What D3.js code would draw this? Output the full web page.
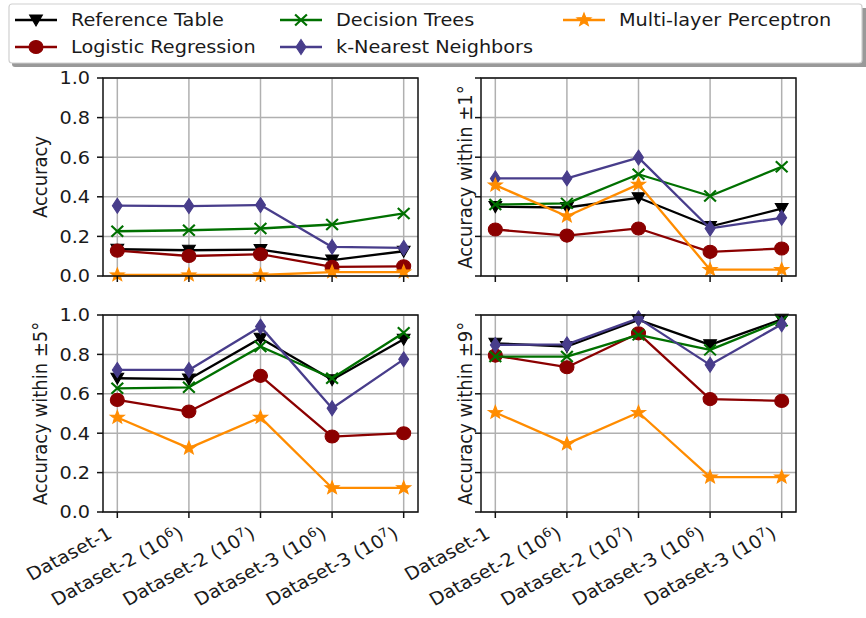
<!DOCTYPE html>
<html>
<head>
<meta charset="utf-8">
<script src="https://cdn.jsdelivr.net/npm/d3@7"></script>
<style>
  html,body{margin:0;padding:0;background:#fff;}
  svg{display:block;font-family:"DejaVu Sans",sans-serif;}
</style>
</head>
<body>
<svg id="chart" width="866" height="618"></svg>
<script>
'use strict';

/* ── data ───────────────────────────────────────────── */
const CATEGORIES = ['Dataset-1','Dataset-2 (10^6)','Dataset-2 (10^7)','Dataset-3 (10^6)','Dataset-3 (10^7)'];
const Y_TICKS = [0,0.2,0.4,0.6,0.8,1.0];

const METHODS = ['Reference Table','Logistic Regression','Decision Trees','k-Nearest Neighbors','Multi-layer Perceptron'];

// accuracy (exact)
const ACC_REF = [0.135,0.13,0.133,0.08,0.125];
const ACC_LR  = [0.128,0.101,0.110,0.046,0.049];
const ACC_DT  = [0.226,0.231,0.240,0.260,0.316];
const ACC_KNN = [0.355,0.353,0.358,0.147,0.142];
const ACC_MLP = [0.005,0.005,0.005,0.02,0.02];

// within ±1°
const W1_REF = [0.350,0.346,0.395,0.250,0.340];
const W1_LR  = [0.235,0.204,0.240,0.122,0.139];
const W1_DT  = [0.361,0.367,0.514,0.404,0.552];
const W1_KNN = [0.493,0.493,0.598,0.240,0.294];
const W1_MLP = [0.459,0.302,0.463,0.032,0.032];

// within ±5°
const W5_REF = [0.679,0.674,0.882,0.671,0.877];
const W5_LR  = [0.569,0.510,0.691,0.383,0.400];
const W5_DT  = [0.628,0.633,0.840,0.679,0.910];
const W5_KNN = [0.721,0.721,0.941,0.527,0.775];
const W5_MLP = [0.480,0.324,0.480,0.122,0.122];

// within ±9°
const W9_REF = [0.856,0.840,0.975,0.848,0.978];
const W9_LR  = [0.794,0.735,0.907,0.573,0.564];
const W9_DT  = [0.789,0.789,0.899,0.823,0.971];
const W9_KNN = [0.848,0.851,0.983,0.747,0.953];
const W9_MLP = [0.505,0.346,0.505,0.177,0.177];

const Y_LABELS = ['Accuracy','Accuracy within \u00b11\u00b0','Accuracy within \u00b15\u00b0','Accuracy within \u00b19\u00b0'];

/* ── style ──────────────────────────────────────────── */
const COLORS  = ['#000000','#8b0000','#007000','#483d8b','#ff8c00'];
const MARKERS = ['tri','circle','x','diamond','star'];
const SX = 1.07;           // the picture is a bit wider than tall
const FONT = 18;

const PANELS = [
  {x0:103,x1:418,y0:78, y1:276,labels:true, lx:47},
  {x0:481,x1:796,y0:78, y1:276,labels:false,lx:472},
  {x0:103,x1:418,y0:315,y1:512,labels:true, lx:47},
  {x0:481,x1:796,y0:315,y1:512,labels:false,lx:472}
];

const SERIES = [
  [ACC_REF,ACC_LR,ACC_DT,ACC_KNN,ACC_MLP],
  [W1_REF,W1_LR,W1_DT,W1_KNN,W1_MLP],
  [W5_REF,W5_LR,W5_DT,W5_KNN,W5_MLP],
  [W9_REF,W9_LR,W9_DT,W9_KNN,W9_MLP]
];

const svg = d3.select('#chart');

/* ── markers ────────────────────────────────────────── */
function markerPath(kind){
  if(kind==='tri'){ const r=6; return `M0,${r}L${r},${-r*0.85}L${-r},${-r*0.85}Z`; }
  if(kind==='circle'){ return d3.symbol(d3.symbolCircle,135)(); }
  if(kind==='x'){ const r=5.5; return `M${-r},${-r}L${r},${r}M${-r},${r}L${r},${-r}`; }
  if(kind==='diamond'){ const r=7.5; return `M0,${-r}L${r*0.62},0L0,${r}L${-r*0.62},0Z`; }
  if(kind==='star'){
    const R=7, r=R*0.42; let p='';
    for(let i=0;i<10;i++){
      const a=-Math.PI/2+i*Math.PI/5, rr=i%2?r:R;
      p+=(i?'L':'M')+(rr*Math.cos(a)).toFixed(2)+','+(rr*Math.sin(a)).toFixed(2);
    }
    return p+'Z';
  }
}

function drawMarker(g,kind,color,x,y){
  const m=g.append('path')
    .attr('d',markerPath(kind))
    .attr('transform',`translate(${x},${y}) scale(${SX},1)`)
    .attr('stroke',color);
  if(kind==='x') m.attr('fill','none').attr('stroke-width',2);
  else m.attr('fill',color).attr('stroke-width',1);
}

function label(g,x,y,txt,opts){
  opts=opts||{};
  const t=g.append('text')
    .attr('transform',`translate(${x},${y}) scale(${SX},1)`+(opts.rot?` rotate(${opts.rot})`:''))
    .attr('font-size',opts.size||FONT)
    .attr('fill','#1a1a1a')
    .attr('text-anchor',opts.anchor||'start');
  if(opts.dy) t.attr('dy',opts.dy);
  const m=txt.match(/^(.*)\^(\d+)\)$/);
  if(m){
    t.append('tspan').text(m[1]);
    t.append('tspan').attr('dy',-7).attr('font-size',12.5).text(m[2]);
    t.append('tspan').attr('dy',7).text(')');
  } else t.text(txt);
  return t;
}

/* ── panels ─────────────────────────────────────────── */
PANELS.forEach((p,pi)=>{
  const g=svg.append('g');
  const x=d3.scalePoint().domain(d3.range(CATEGORIES.length)).range([p.x0,p.x1]).padding(0.2);
  const y=d3.scaleLinear().domain([0,1]).range([p.y1,p.y0]);

  // grid
  g.selectAll('.gx').data(d3.range(CATEGORIES.length)).enter().append('line')
    .attr('x1',d=>x(d)).attr('x2',d=>x(d)).attr('y1',p.y0).attr('y2',p.y1)
    .attr('stroke','#b0b0b0').attr('stroke-width',1.5);
  g.selectAll('.gy').data(Y_TICKS).enter().append('line')
    .attr('x1',p.x0).attr('x2',p.x1).attr('y1',d=>y(d)).attr('y2',d=>y(d))
    .attr('stroke','#b0b0b0').attr('stroke-width',1.5);

  // lines + markers
  SERIES[pi].forEach((vals,si)=>{
    const line=d3.line().x((d,i)=>x(i)).y(d=>y(d));
    g.append('path').datum(vals).attr('d',line)
      .attr('fill','none').attr('stroke',COLORS[si]).attr('stroke-width',2.3)
      .attr('stroke-linejoin','round');
    vals.forEach((v,i)=>drawMarker(g,MARKERS[si],COLORS[si],x(i),y(v)));
  });

  // frame
  g.append('rect').attr('x',p.x0).attr('y',p.y0)
    .attr('width',p.x1-p.x0).attr('height',p.y1-p.y0)
    .attr('fill','none').attr('stroke','#111').attr('stroke-width',1.5);

  // y ticks
  Y_TICKS.forEach(t=>{
    g.append('line').attr('x1',p.x0-6).attr('x2',p.x0).attr('y1',y(t)).attr('y2',y(t))
      .attr('stroke','#111').attr('stroke-width',1.5);
    if(p.labels) label(g,p.x0-13,y(t),t.toFixed(1),{anchor:'end',dy:'0.36em'});
  });

  // x ticks
  d3.range(CATEGORIES.length).forEach(i=>{
    g.append('line').attr('x1',x(i)).attr('x2',x(i)).attr('y1',p.y1).attr('y2',p.y1+6)
      .attr('stroke','#111').attr('stroke-width',1.5);
  });
  if(pi>=2){
    CATEGORIES.forEach((c,i)=>{
      label(g,x(i)-4,p.y1+25,c,{anchor:'end',rot:-30});
    });
  }

  // y label
  label(g,p.lx,(p.y0+p.y1)/2,Y_LABELS[pi],{anchor:'middle',rot:-90});
});

/* ── legend ─────────────────────────────────────────── */
const lg=svg.append('g');
lg.append('rect').attr('x',12).attr('y',8).attr('width',858).attr('height',59)
  .attr('rx',3).attr('fill','#999');
lg.append('rect').attr('x',9).attr('y',4).attr('width',853).attr('height',59)
  .attr('rx',3).attr('fill','#fff').attr('stroke','#d0d0d0').attr('stroke-width',1.2);

const LEG_COL_X=[15,280,563];
const LEG_ROW_Y=[20,47];
METHODS.forEach((m,i)=>{
  const col=Math.floor(i/2), row=i%2;
  const lx=LEG_COL_X[col], ly=LEG_ROW_Y[row];
  lg.append('line').attr('x1',lx).attr('x2',lx+42).attr('y1',ly).attr('y2',ly)
    .attr('stroke',COLORS[i]).attr('stroke-width',2.3);
  drawMarker(lg,MARKERS[i],COLORS[i],lx+21,ly);
  label(lg,lx+56,ly,m,{dy:'0.36em'});
});
</script>
</body>
</html>
